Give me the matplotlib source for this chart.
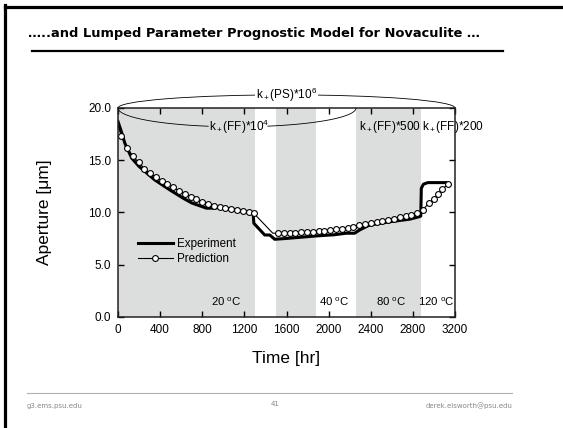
import numpy as np
import matplotlib
matplotlib.use("Agg")
import matplotlib.pyplot as plt
from matplotlib.patches import Arc
from matplotlib.lines import Line2D

plt.rcParams['font.family'] = ['Liberation Sans', 'DejaVu Sans']
plt.rcParams['mathtext.fontset'] = 'custom'
plt.rcParams['mathtext.rm'] = 'Liberation Sans'
plt.rcParams['mathtext.it'] = 'Liberation Sans:italic'

# ---------------- data ----------------
exp_t = [0, 30, 66, 130, 200, 350, 500, 620, 700, 840, 920, 960, 1050, 1150, 1283,
         1290, 1393, 1441, 1488, 1600, 1883, 2050, 2168, 2247, 2294, 2389, 2579,
         2768, 2863, 2875, 2880, 2900, 2942, 3131]
exp_a = [18.7, 17.8, 16.6, 15.2, 14.4, 13.1, 12.1, 11.35, 10.9, 10.4, 10.4, 10.5, 10.35,
         10.15, 9.9, 8.95, 7.83, 7.83, 7.42, 7.5, 7.74, 7.85, 8.0, 8.0, 8.31, 8.79, 9.1,
         9.34, 9.59, 9.65, 12.3, 12.7, 12.85, 12.85]

pred_t = [0, 30, 85, 140, 195, 250, 305, 360, 415, 470, 525, 580, 635, 690, 745, 800,
          855, 910, 965, 1020, 1075, 1130, 1185, 1240, 1290, 1470,
          1520, 1575, 1630, 1685, 1740, 1795, 1850, 1905, 1960, 2015, 2070, 2125, 2180,
          2235, 2290, 2345, 2400, 2455, 2510, 2565, 2620, 2675, 2730, 2785, 2840, 2895,
          2950, 3000, 3040, 3080, 3130]
pred_a = [18.4, 17.3, 16.2, 15.4, 14.8, 14.2, 13.75, 13.35, 13.0, 12.7, 12.4, 12.05,
          11.75, 11.5, 11.25, 11.0, 10.8, 10.6, 10.5, 10.4, 10.3, 10.2, 10.1, 10.0, 9.9, 8.0,
          8.0, 8.0, 8.02, 8.05, 8.08, 8.1, 8.15, 8.2, 8.25, 8.3, 8.38, 8.45, 8.52,
          8.62, 8.75, 8.87, 8.97, 9.07, 9.17, 9.28, 9.4, 9.52, 9.63, 9.75, 9.9, 10.25,
          10.85, 11.3, 11.75, 12.2, 12.7]
pred_unmarked = [0, 25]

shade_start = [0, 1500, 2260]
shade_end = [1300, 1880, 2880]

temp_labels = [r"20 $^{\rm o}$C", r"40 $^{\rm o}$C", r"80 $^{\rm o}$C", r"120 $^{\rm o}$C"]
temp_x = [1030, 2057, 2593, 3020]

xticks = [0, 400, 800, 1200, 1600, 2000, 2400, 2800, 3200]
yticks = [0.0, 5.0, 10.0, 15.0, 20.0]

# ---------------- figure ----------------
fig = plt.figure(figsize=(5.63, 4.28), dpi=100)
fig.patch.set_facecolor('white')

# slide frame
fig.add_artist(Line2D([5/563, 5/563], [0, 1 - 5/428], color='black', lw=2.3))
fig.add_artist(Line2D([5/563, 1], [1 - 7/428, 1 - 7/428], color='black', lw=2.3))

fig.text(28/563, 1 - 34/428, "\u2026..and Lumped Parameter Prognostic Model for Novaculite \u2026",
         family='DejaVu Sans', weight='bold', fontsize=9.4, va='center', ha='left')
fig.add_artist(Line2D([32/563, 503/563], [1 - 51/428, 1 - 51/428], color='black', lw=1.6))

# footer
fig.add_artist(Line2D([27/563, 512/563], [1 - 393/428, 1 - 393/428], color='#b0b0b0', lw=0.8))
fig.text(27/563, 1 - 406/428, "g3.ems.psu.edu", fontsize=5, color='#888888', va='center',
         family='DejaVu Sans')
fig.text(275/563, 1 - 404/428, "41", fontsize=5, color='#888888', va='center', ha='center',
         family='DejaVu Sans')
fig.text(512/563, 1 - 406/428, "derek.elsworth@psu.edu", fontsize=5, color='#888888',
         va='center', ha='right', family='DejaVu Sans')

ax = fig.add_axes([118/563, 1 - 316.7/428, 337/563, 208.7/428])

for s, e in zip(shade_start, shade_end):
    ax.axvspan(s, e, color='#dcdddd', lw=0, zorder=0)

ax.plot(exp_t, exp_a, color='black', lw=2.2, zorder=3, label='Experiment')
marked = [i for i in range(len(pred_t)) if i not in pred_unmarked]
ax.plot(pred_t, pred_a, color='black', lw=0.8, marker='o', markersize=4.2,
        markerfacecolor='white', markeredgecolor='black', markeredgewidth=0.8,
        markevery=marked, zorder=4, label='Prediction')

ax.set_xlim(0, 3200)
ax.set_ylim(0, 20)
ax.set_xticks(xticks)
ax.set_yticks(yticks)
ax.set_yticklabels([f"{v:.1f}" for v in yticks])
ax.tick_params(direction='in', length=4, width=1, labelsize=8.5, top=True, right=True,
               labeltop=False, labelright=False, pad=5)
for sp in ax.spines.values():
    sp.set_linewidth(1.1)
    sp.set_color('#222222')
    sp.set_zorder(6)

ax.set_xlabel("Time [hr]", fontsize=12.5, labelpad=11)
ax.set_ylabel("Aperture [\u03bcm]", fontsize=12.5, labelpad=26)

# rate-constant arcs
ax.add_patch(Arc((1600, 20), 3200, 2 * 1.26, theta1=0, theta2=180, color='black', lw=0.6,
                 clip_on=False, zorder=5))
# lower half-ellipse (0-2260 hr), broken where its label sits
for t0, t1 in [(180, 256), (285, 360)]:
    t = np.deg2rad(np.linspace(t0, t1, 80))
    ax.plot(1130 + 1130 * np.cos(t), 20 + 1.8 * np.sin(t), color='black', lw=0.6,
            clip_on=False, zorder=5)
ax.text(1600, 21.26, r"k$_+$(PS)*10$^6$", fontsize=8.5, ha='center', va='center',
        bbox=dict(facecolor='white', edgecolor='none', pad=0.3), clip_on=False, zorder=7)
ax.text(1150, 18.2, r"k$_+$(FF)*10$^4$", fontsize=8.5, ha='center', va='center', zorder=7)
ax.text(2285, 18.2, r"k$_+$(FF)*500", fontsize=8.5, ha='left', va='center', zorder=7)
ax.text(2890, 18.2, r"k$_+$(FF)*200", fontsize=8.5, ha='left', va='center', zorder=7,
        clip_on=False)

for lab, x in zip(temp_labels, temp_x):
    ax.text(x, 1.45, lab, fontsize=8.2, ha='center', va='center', zorder=7, clip_on=False)

ax.legend(loc='upper left', bbox_to_anchor=(0.059, 0.375), frameon=False, fontsize=8.4,
          handlelength=3, handletextpad=0.35, labelspacing=0.25, borderpad=0,
          borderaxespad=0)

fig.savefig("out.png", dpi=100)
